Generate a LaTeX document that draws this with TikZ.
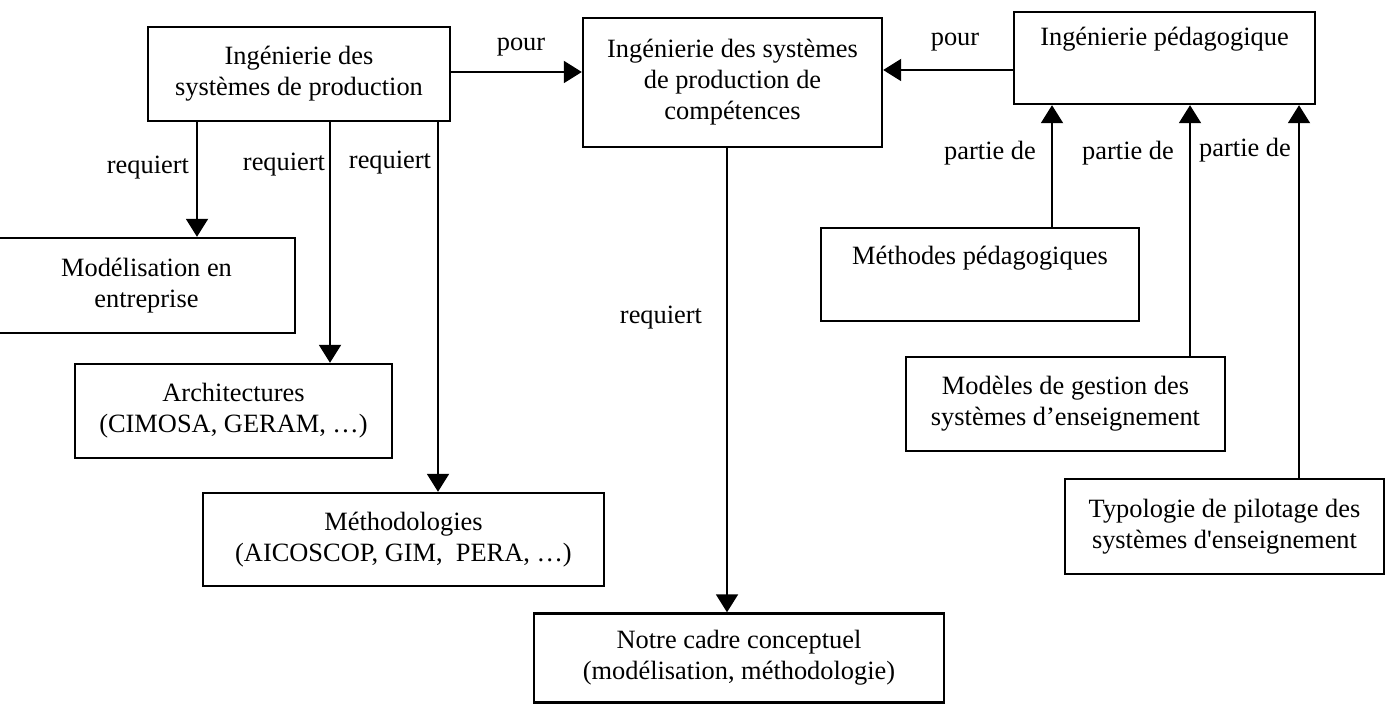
\documentclass[tikz,border=0pt]{standalone}
\usepackage{fontspec}
\setmainfont{Liberation Serif}
\usetikzlibrary{arrows.meta}
\newcommand{\fsz}{\fontsize{13.2}{15.5}\selectfont}
\begin{document}
\begin{tikzpicture}[x=0.5pt,y=-0.5pt,
  box/.style={draw, line width=1.2pt, inner sep=0pt, align=center, font=\fsz},
  topbox/.style={draw, line width=1.2pt, inner xsep=0pt, inner ysep=0pt, font=\fsz},
  arr/.style={line width=1pt, -{Triangle[width=11pt,length=9pt]}},
  lab/.style={inner sep=0pt, font=\fsz}]
\useasboundingbox (0,0) rectangle (1391,705);
% boxes
\node[box, minimum width=151pt, minimum height=47pt] (A) at (299,74) {Ingénierie des\\systèmes de production};
\node[box, minimum width=149.5pt, minimum height=64.5pt] (B) at (732.5,82.5) {Ingénierie des systèmes\\de production de\\compétences};
\node[topbox, minimum width=150.5pt, text height=17pt, text depth=29pt] (C) at (1164.5,58) {Ingénierie pédagogique};
\node[box, minimum width=148.5pt, minimum height=47.5pt] (D) at (146.5,285.5) {Modélisation en\\entreprise};
\node[box, minimum width=158.5pt, minimum height=47pt] (E) at (233.5,411) {Architectures\\(CIMOSA, GERAM, \dots)};
\node[box, minimum width=200.5pt, minimum height=46.5pt] (F) at (403.5,539.5) {Méthodologies\\(AICOSCOP, GIM,\ \ PERA, \dots)};
\node[box, minimum width=205pt, minimum height=44.5pt] (G) at (739,658) {Notre cadre conceptuel\\(modélisation, méthodologie)};
\node[topbox, minimum width=159pt, text height=18.5pt, text depth=28pt] (H) at (980,274.5) {Méthodes pédagogiques};
\node[box, minimum width=159.5pt, minimum height=47pt] (I) at (1065.5,404) {Modèles de gestion des\\systèmes d’enseignement};
\node[box, minimum width=159.5pt, minimum height=47.5pt] (J) at (1224.5,526.5) {Typologie de pilotage des\\systèmes d\textquotesingle enseignement};
% helper coordinates
\coordinate (x1) at (197,0);
\coordinate (x2) at (330,0);
\coordinate (x3) at (438,0);
\coordinate (x4) at (727,0);
\coordinate (x5) at (1052,0);
\coordinate (x6) at (1190,0);
\coordinate (x7) at (1299,0);
\coordinate (y1) at (0,72);
\coordinate (y2) at (0,70);
% connectors
\draw[arr] (A.east |- y1) -- (B.west |- y1);
\draw[arr] (C.west |- y2) -- (B.east |- y2);
\draw[arr] (x1 |- A.south) -- (x1 |- D.north);
\draw[arr] (x2 |- A.south) -- (x2 |- E.north);
\draw[arr] (x3 |- A.south) -- (x3 |- F.north);
\draw[arr] (x4 |- B.south) -- (x4 |- G.north);
\draw[arr] (x5 |- H.north) -- (x5 |- C.south);
\draw[arr] (x6 |- I.north) -- (x6 |- C.south);
\draw[arr] (x7 |- J.north) -- (x7 |- C.south);
% labels
\node[lab] (l1) at (521,47) {pour};
\node[lab] (l2) at (955,42) {pour};
\node[lab] (l3) at (148,168) {requiert};
\node[lab] (l4) at (284,165) {requiert};
\node[lab] (l5) at (390,163) {requiert};
\node[lab] (l6) at (661,318) {requiert};
\node[lab] (l7) at (990,153) {partie de};
\node[lab] (l8) at (1128,153) {partie de};
\node[lab] (l9) at (1245,150) {partie de};
\end{tikzpicture}
\end{document}
